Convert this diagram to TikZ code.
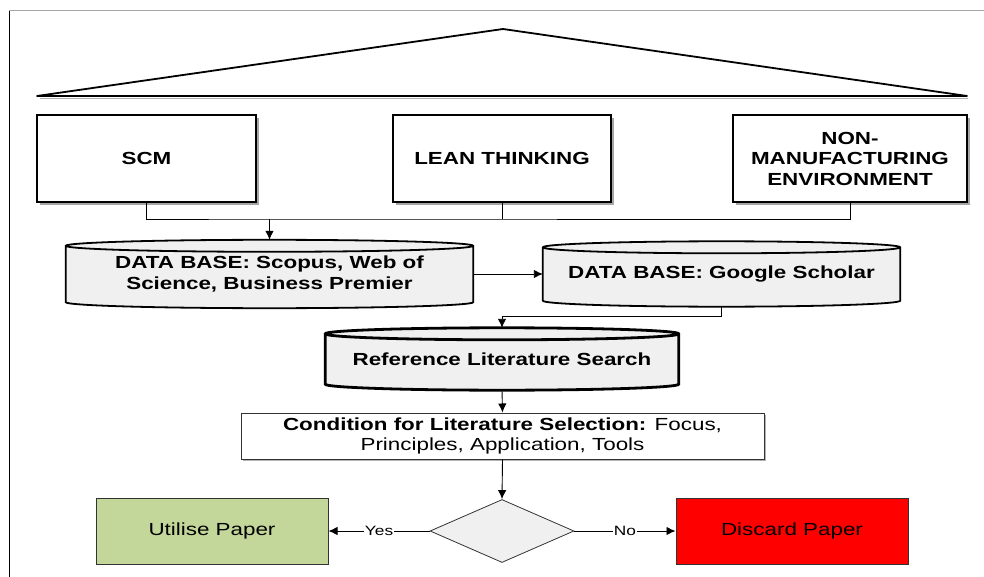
\documentclass[tikz,border=0pt]{standalone}
\usepackage{fontspec}
\setmainfont{Liberation Sans}[FakeStretch=1.28]
\usepackage{tikz}
\usetikzlibrary{calc,shapes.geometric,shadows,arrows.meta,backgrounds}
\definecolor{drumgray}{rgb}{0.94, 0.94, 0.94}
\definecolor{keepgreen}{HTML}{C4D79B}
\newcommand{\bigfont}{\fontsize{17.5}{20.5}\selectfont}
\newcommand{\smallfont}{\fontsize{13.5}{15}\selectfont}
% data base drum drawn behind a node: #1 line width, #2 node name
\newcommand{\drum}[2][1.8pt]{%
\begin{pgfonlayer}{background}
\path [draw, line width=#1, fill=drumgray] let \p1 = (#2.north west), \p2 = (#2.south east), \n1 = {(\x2-\x1)/2} in
  (\x1, {\y1-6pt}) -- (\x1, {\y2+6pt}) arc [start angle=180, end angle=360, x radius=\n1, y radius=6pt]
  -- (\x2, {\y1-6pt}) arc [start angle=0, end angle=180, x radius=\n1, y radius=6pt] -- cycle
  (\x1, {\y1-6pt}) arc [start angle=180, end angle=360, x radius=\n1, y radius=6pt];
\end{pgfonlayer}}

\begin{document}
\begin{tikzpicture}[x=1pt, y=1pt, >={Latex[length=9pt, width=8.5pt]},
  topic/.style={draw, line width=2pt, fill=white, minimum width=#1, minimum height=87pt,
    align=center, font=\bigfont\bfseries,
    drop shadow={shadow xshift=3pt, shadow yshift=-3pt, fill=gray!70, opacity=1}},
  store/.style={minimum height=#1, align=center, font=\bigfont\bfseries},
  outcome/.style={draw=black!80, line width=1pt, minimum width=232pt, minimum height=66pt, font=\bigfont},
  wire/.style={line width=0.9pt},
  tag/.style={fill=white, font=\smallfont, inner sep=1pt}]
\useasboundingbox (0, 0) rectangle (984, -577);

% frame and roof
\draw [gray!70, line width=1pt] (9, -11) -- (984, -11);
\draw [line width=1pt] (9, -11) -- (9, -577);
\draw [gray!60, line width=1.8pt] (40, -98.5) -- (968, -98.5);
\draw [line width=1.8pt, line join=round] (37, -96) -- (503, -29) -- (967, -96) -- cycle;

% topics
\node [topic=219pt] (scm) at (146.5, -158.5) {SCM};
\node [topic=218pt] (lean) at (502, -158.5) {LEAN THINKING};
\node [topic=234pt] (nonman) at (850, -158.5) {NON-\\MANUFACTURING\\ENVIRONMENT};
\coordinate (join) at (269.5, -219);

% data bases
\node [store=68pt, minimum width=407pt] (db1) at (269.5, -274) {DATA BASE: Scopus, Web of\\Science, Business Premier};
\drum{db1}
\node [store=65pt, minimum width=357pt] (db2) at (721.5, -274) {DATA BASE: Google Scholar};
\drum{db2}
\node [store=62pt, minimum width=353pt] (db3) at (502, -359) {Reference Literature Search};
\drum[2.8pt]{db3}

\node [draw=black!80, line width=1pt, minimum width=523pt, minimum height=46pt, align=center, font=\bigfont,
  drop shadow={shadow xshift=1.5pt, shadow yshift=-1.5pt, fill=gray!60, opacity=1}, fill=white]
  (cond) at (502.5, -436) {\textbf{Condition for Literature Selection:} Focus,\\Principles, Application, Tools};
\node [diamond, draw=black!80, line width=0.8pt, fill=drumgray, minimum width=144pt, minimum height=63pt, inner sep=0pt] (check) at (502, -531) {};
\node [outcome, fill=keepgreen] (keep) at (212, -531) {Utilise Paper};
\node [outcome, fill=red] (drop) at (792, -531) {Discard Paper};

% connectors
\draw [wire] (scm.south) |- (join) -| (nonman.south);
\draw [wire] (lean.south) -- (lean.south |- join);
\draw [wire, ->] (join) -- (db1.north);
\draw [wire, ->] (db1.east) -- (db2.west);
\draw [wire, ->] (db2.south) -- ++(0, -10) -| (db3.north);
\draw [wire, ->] (db3.south) -- (cond.north);
\draw [wire, ->] (cond.south) -- (check.north);
\draw [wire, ->] (check.west) -- node [tag] {Yes} (keep.east);
\draw [wire, ->] (check.east) -- node [tag] {No} (drop.west);
\end{tikzpicture}
\end{document}
